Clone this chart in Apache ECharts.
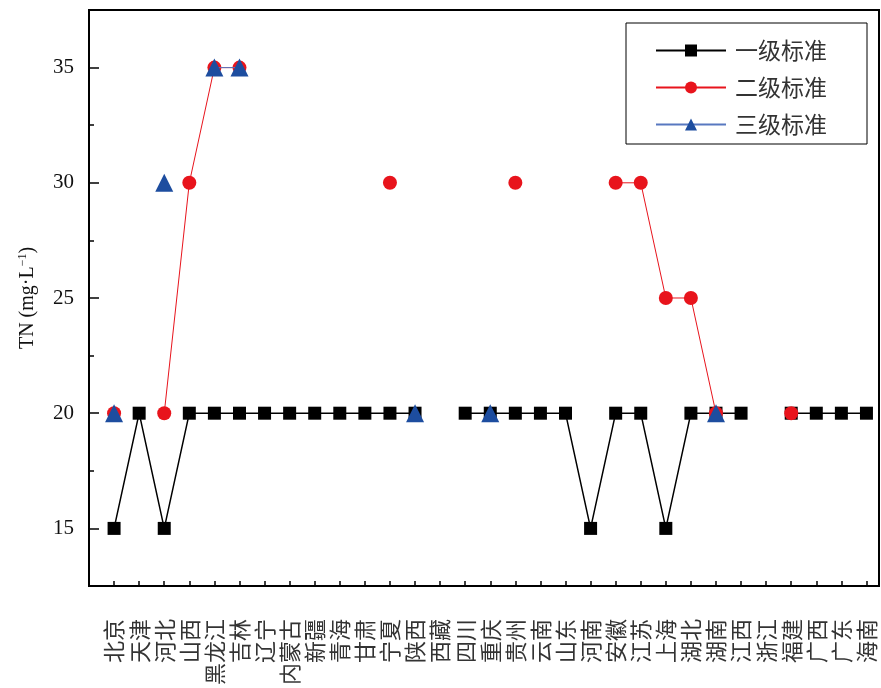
<!DOCTYPE html>
<html><head><meta charset="utf-8">
<script src="https://cdn.jsdelivr.net/npm/echarts@6/dist/echarts.min.js"></script>
<style>html,body{margin:0;padding:0;background:#fff}#c{width:881px;height:688px}</style>
</head><body><div id="c"></div>
<script>
const categories = ['北京','天津','河北','山西','黑龙江','吉林','辽宁','内蒙古','新疆','青海','甘肃','宁夏','陕西','西藏','四川','重庆','贵州','云南','山东','河南','安徽','江苏','上海','湖北','湖南','江西','浙江','福建','广西','广东','海南'];
const tier1 = [15,20,15,20,20,20,20,20,20,20,20,20,20,null,20,20,20,20,20,15,20,20,15,20,20,20,null,20,20,20,20];
const tier2 = [20,null,20,30,35,35,null,null,null,null,null,30,null,null,null,null,30,null,null,null,30,30,25,25,20,null,null,20,null,null,null];
const tier3 = [20,null,30,null,35,35,null,null,null,null,null,null,20,null,null,20,null,null,null,null,null,null,null,null,20,null,null,null,null,null,null];
const seriesNames = ['一级标准','二级标准','三级标准'];
const yMajor = [15,20,25,30,35];
const yMinor = [17.5,22.5,27.5,32.5];

const toPairs = arr => arr.map((v,i)=>[i+1, v===null?'-':v]);
const catIdx = categories.map((c,i)=>i+1);

const W = 881, H = 688, GL = 89, GR = 2, GT = 10, GB = 101;
const gridW = W - GL - GR, gridH = H - GT - GB;
const tickStyle = {color:'#000',width:1.5};

// helper axes on the opposite side, moved onto the plot edge, so their outward ticks point into the plot
const helperY = (vals, len) => ({
  type:'value',min:12.5,max:37.5,position:'right',offset:-gridW,
  splitLine:{show:false},axisLine:{show:false,onZero:false},axisLabel:{show:false},
  axisTick:{length:len,customValues:vals,lineStyle:tickStyle}
});

const chart = echarts.init(document.getElementById('c'));
chart.setOption({
  animation:false,
  backgroundColor:'#fff',
  grid:{left:GL,right:GR,top:GT,bottom:GB,show:true,borderColor:'#000',borderWidth:2,containLabel:false},
  legend:{
    orient:'vertical',left:626,top:23,
    data:seriesNames,
    borderColor:'#000',borderWidth:1,
    padding:[16,40,8,29],
    itemWidth:70,itemHeight:15,itemGap:14,
    textStyle:{fontFamily:'Noto Sans CJK SC',fontSize:23,color:'#333',padding:[0,0,0,4]}
  },
  xAxis:[{
    type:'value',min:0,max:31.5,position:'bottom',
    splitLine:{show:false},
    axisLine:{onZero:false,lineStyle:{color:'#000',width:2}},
    axisTick:{show:false},
    axisLabel:{customValues:catIdx,rotate:90,margin:33,fontSize:22,fontFamily:'Noto Sans CJK SC',color:'#333',
      formatter:v=>categories[Math.round(v)-1]||''}
  },{
    type:'value',min:0,max:31.5,position:'top',offset:-gridH,
    splitLine:{show:false},axisLine:{show:false,onZero:false},axisLabel:{show:false},
    axisTick:{length:6,customValues:catIdx,lineStyle:tickStyle}
  }],
  yAxis:[{
    type:'value',min:12.5,max:37.5,position:'left',
    name:'TN (mg·L{sup|−1})',nameLocation:'middle',nameGap:50,nameRotate:90,
    nameTextStyle:{fontFamily:'Liberation Serif',fontSize:20,color:'#111',
      rich:{sup:{fontFamily:'Liberation Serif',fontSize:12,color:'#111',verticalAlign:'top',padding:[0,0,10,0]}}},
    splitLine:{show:false},
    axisLine:{onZero:false,lineStyle:{color:'#000',width:2}},
    axisTick:{show:false},
    axisLabel:{customValues:yMajor,margin:15,fontFamily:'Liberation Serif',fontSize:21,color:'#111'}
  }, helperY(yMajor,10), helperY(yMinor,5)],
  series:[
    {name:seriesNames[0],type:'line',data:toPairs(tier1),connectNulls:false,
     symbol:'rect',symbolSize:13,itemStyle:{color:'#000'},lineStyle:{color:'#000',width:1.5},z:2},
    {name:seriesNames[1],type:'line',data:toPairs(tier2),connectNulls:false,
     symbol:'circle',symbolSize:14,itemStyle:{color:'#e8141c'},lineStyle:{color:'#e8141c',width:1},z:3},
    {name:seriesNames[2],type:'line',data:toPairs(tier3),connectNulls:false,
     symbol:'triangle',symbolSize:18,itemStyle:{color:'#1d4d9f'},lineStyle:{color:'#5878c0',width:1},z:4}
  ]
});
</script></body></html>
